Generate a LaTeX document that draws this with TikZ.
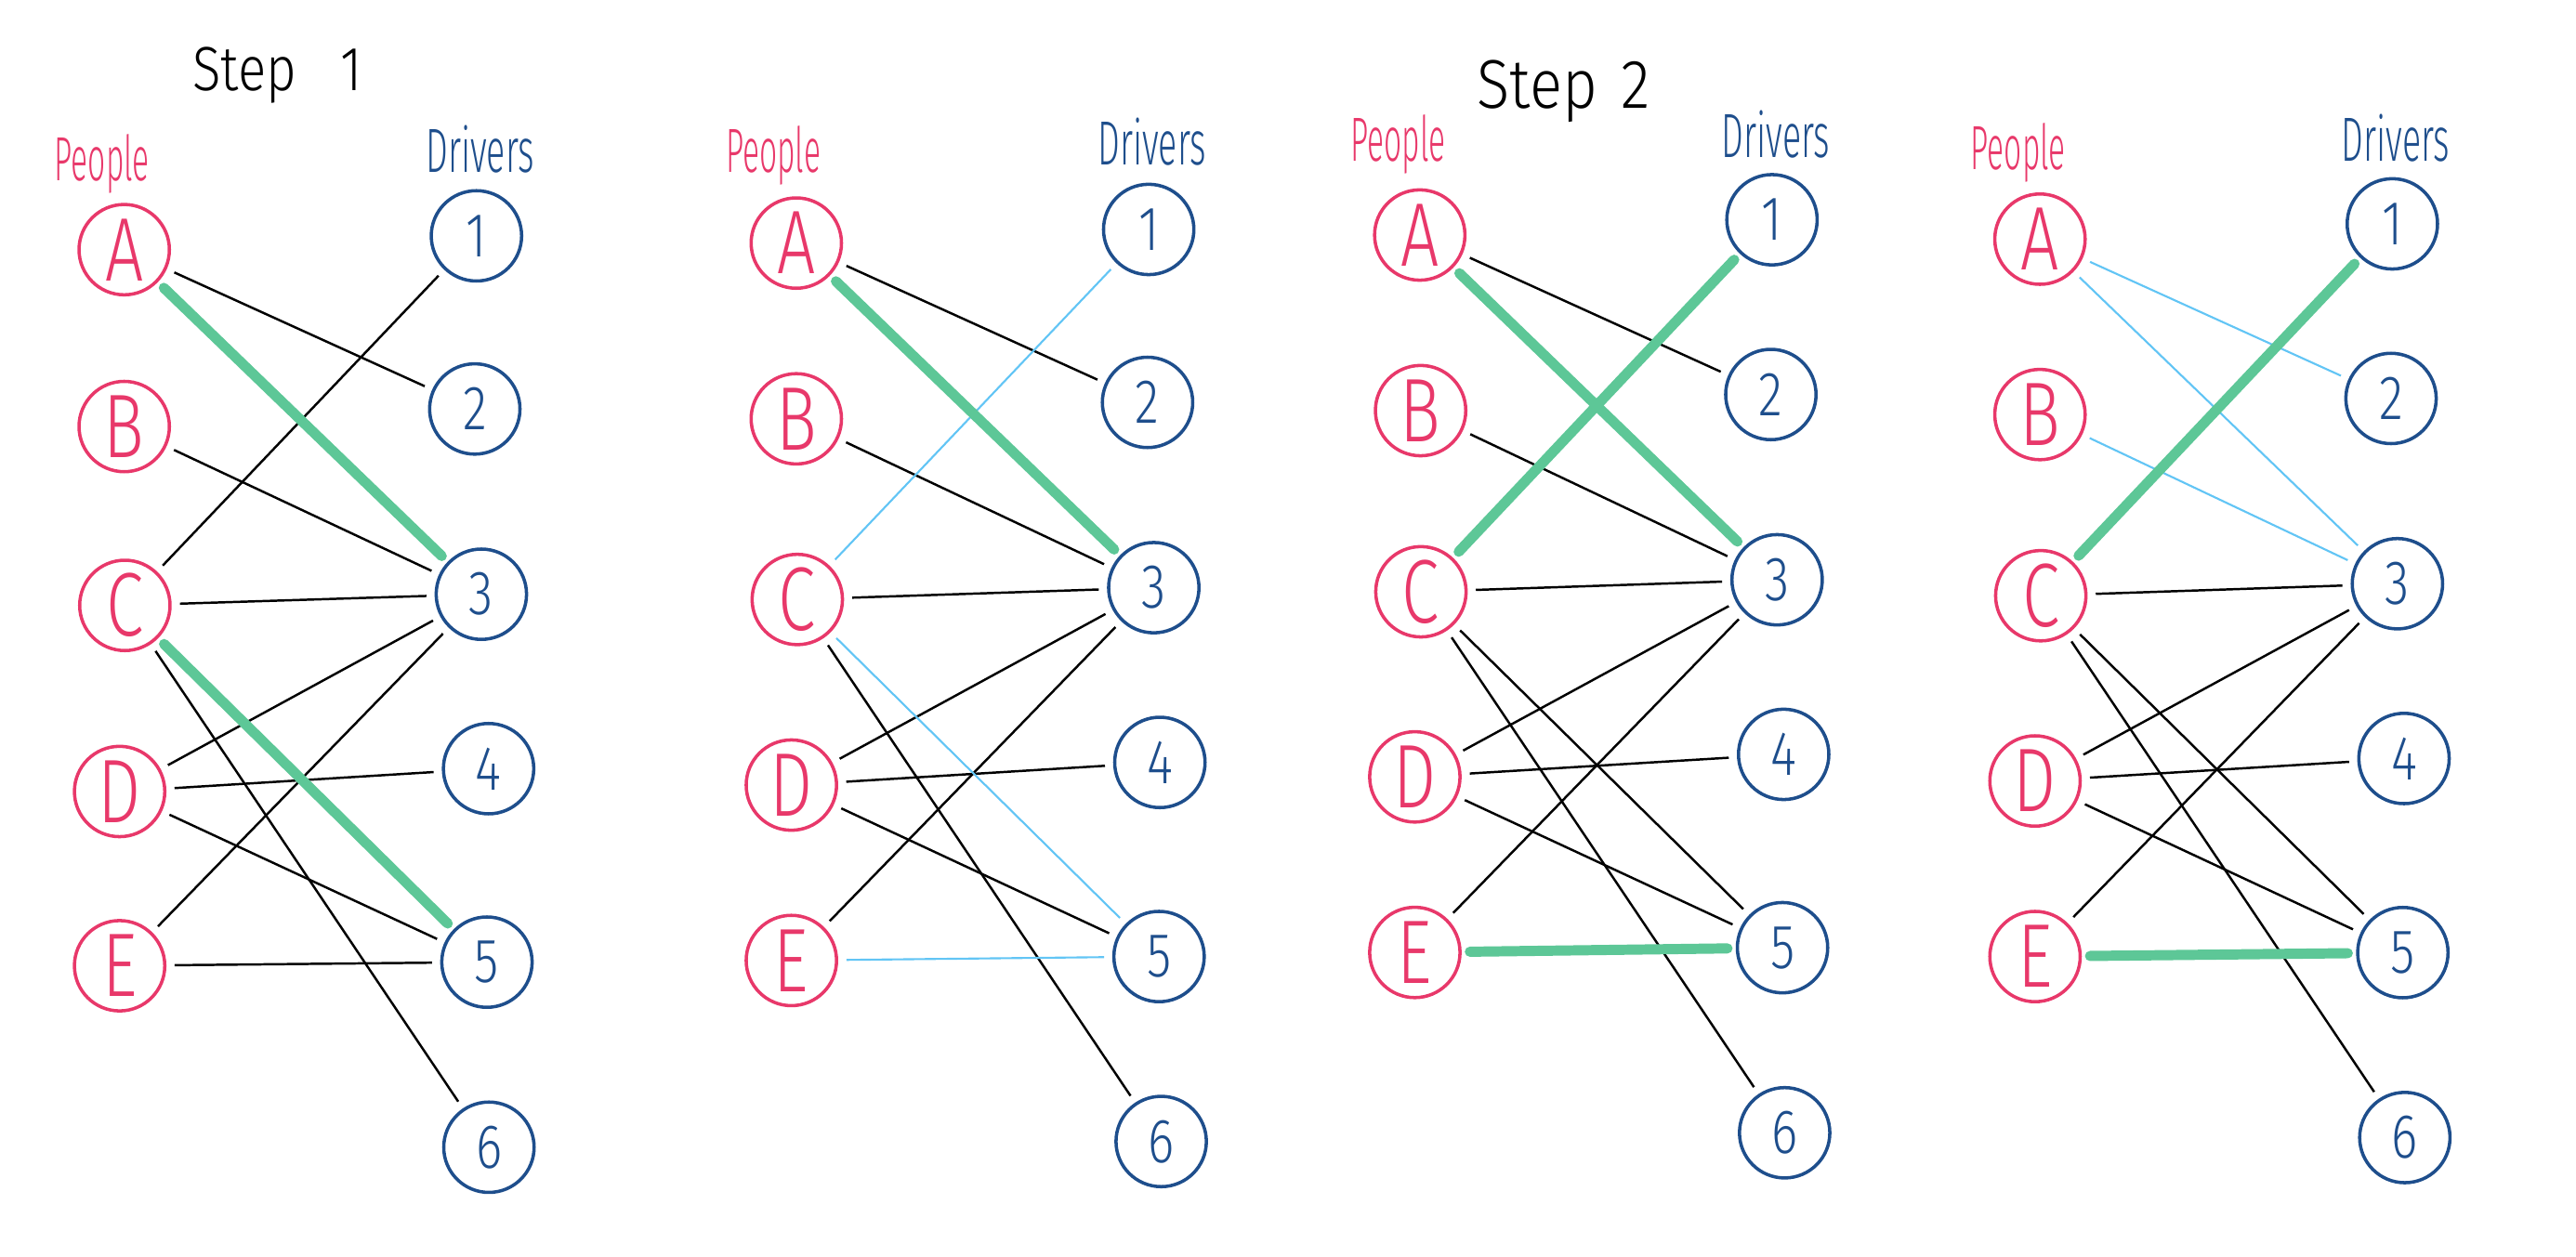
\documentclass[tikz,border=0pt]{standalone}
\usepackage{fontspec}
\usepackage{graphicx}
\newfontfamily\hand{Fira Sans Light}
\definecolor{ppink}{HTML}{E8386A}
\definecolor{nblue}{HTML}{1E4E8C}
\definecolor{mgreen}{HTML}{5DC797}
\definecolor{lblue}{HTML}{62C5F5}
\newcommand\hw[3]{{\hand\fontsize{#1}{#1}\selectfont\scalebox{#2}[1]{#3}}}
\begin{document}
\begin{tikzpicture}[x=1pt,y=-1pt,
  person/.style={circle,draw=ppink,line width=2pt,minimum size=55pt,inner sep=0pt,outer sep=6pt,text=ppink},
  driver/.style={circle,draw=nblue,line width=2pt,minimum size=55pt,inner sep=0pt,outer sep=6pt,text=nblue},
  blk/.style={line width=1.4pt,black},
  lb/.style={line width=1.2pt,lblue},
  gr/.style={line width=6.2pt,mgreen,line cap=round},
  lab/.style={inner sep=0pt,anchor=base west}]
\useasboundingbox (0,0) rectangle (1568,765);
\newcommand\pl[1]{\hw{55}{0.75}{#1}}
\newcommand\dl[1]{\hw{38}{0.8}{#1}}

% ---------- titles ----------
\node[lab] (t1) at (117,55) {\hw{38}{0.84}{Step\hspace{32pt}1}};
\node[lab] (t2) at (899,66) {\hw{42}{0.88}{Step\hspace{16pt}2}};

% ---------- panel 1 ----------
\node[lab,text=ppink] (h1p) at (33,110) {\hw{38}{0.5}{People}};
\node[lab,text=nblue] (h1d) at (259,105) {\hw{38}{0.56}{Drivers}};
\node[person] (p1A) at (75.6,152) {\pl{A}};
\node[person] (p1B) at (75.6,259.7) {\pl{B}};
\node[person] (p1C) at (76,368.6) {\pl{C}};
\node[person] (p1D) at (72.8,481.9) {\pl{D}};
\node[person] (p1E) at (72.8,588) {\pl{E}};
\node[driver] (p1n1) at (290,143.6) {\dl{1}};
\node[driver] (p1n2) at (289,249) {\dl{2}};
\node[driver] (p1n3) at (293,361.8) {\dl{3}};
\node[driver] (p1n4) at (297.4,468) {\dl{4}};
\node[driver] (p1n5) at (296.4,585.8) {\dl{5}};
\node[driver] (p1n6) at (297.6,698.5) {\dl{6}};

% ---------- panel 2 ----------
\node[lab,text=ppink] (h2p) at (441.6,105) {\hw{38}{0.5}{People}};
\node[lab,text=nblue] (h2d) at (668,100.5) {\hw{38}{0.56}{Drivers}};
\node[person] (p2A) at (484.7,148) {\pl{A}};
\node[person] (p2B) at (484.7,255) {\pl{B}};
\node[person] (p2C) at (485.3,365) {\pl{C}};
\node[person] (p2D) at (481.7,478) {\pl{D}};
\node[person] (p2E) at (481.7,584.8) {\pl{E}};
\node[driver] (p2n1) at (699.2,139.7) {\dl{1}};
\node[driver] (p2n2) at (698.5,245) {\dl{2}};
\node[driver] (p2n3) at (702.3,357.8) {\dl{3}};
\node[driver] (p2n4) at (706,464.2) {\dl{4}};
\node[driver] (p2n5) at (705.5,582.4) {\dl{5}};
\node[driver] (p2n6) at (706.8,695) {\dl{6}};

% ---------- panel 3 ----------
\node[lab,text=ppink] (h3p) at (821.8,98) {\hw{38}{0.5}{People}};
\node[lab,text=nblue] (h3d) at (1047.7,95.6) {\hw{38}{0.56}{Drivers}};
\node[person] (p3A) at (864.2,143.1) {\pl{A}};
\node[person] (p3B) at (864.7,250) {\pl{B}};
\node[person] (p3C) at (864.9,360.3) {\pl{C}};
\node[person] (p3D) at (861.2,473) {\pl{D}};
\node[person] (p3E) at (861.2,579.9) {\pl{E}};
\node[driver] (p3n1) at (1078.6,133.8) {\dl{1}};
\node[driver] (p3n2) at (1077.9,240.2) {\dl{2}};
\node[driver] (p3n3) at (1081.7,353) {\dl{3}};
\node[driver] (p3n4) at (1085.7,459.3) {\dl{4}};
\node[driver] (p3n5) at (1085,577) {\dl{5}};
\node[driver] (p3n6) at (1086.3,689.7) {\dl{6}};

% ---------- panel 4 ----------
\node[lab,text=ppink] (h4p) at (1199.4,103) {\hw{38}{0.5}{People}};
\node[lab,text=nblue] (h4d) at (1425,98) {\hw{38}{0.56}{Drivers}};
\node[person] (p4A) at (1241.7,145.6) {\pl{A}};
\node[person] (p4B) at (1241.7,252.4) {\pl{B}};
\node[person] (p4C) at (1242.2,362.7) {\pl{C}};
\node[person] (p4D) at (1238.7,475.5) {\pl{D}};
\node[person] (p4E) at (1238.7,582.4) {\pl{E}};
\node[driver] (p4n1) at (1456.2,136.3) {\dl{1}};
\node[driver] (p4n2) at (1455.4,242.6) {\dl{2}};
\node[driver] (p4n3) at (1459.3,355.4) {\dl{3}};
\node[driver] (p4n4) at (1463.3,461.8) {\dl{4}};
\node[driver] (p4n5) at (1462.6,580) {\dl{5}};
\node[driver] (p4n6) at (1463.8,692.6) {\dl{6}};

% ---------- edges ----------
\foreach \a/\b in {A/2,B/3,C/1,C/3,C/6,D/3,D/4,D/5,E/3,E/5}
  \draw[blk] (p1\a) -- (p1n\b);
\foreach \a/\b in {A/3,C/5}
  \draw[gr] (p1\a) -- (p1n\b);

\foreach \a/\b in {A/2,B/3,C/3,C/6,D/3,D/4,D/5,E/3}
  \draw[blk] (p2\a) -- (p2n\b);
\foreach \a/\b in {C/1,C/5,E/5}
  \draw[lb] (p2\a) -- (p2n\b);
\draw[gr] (p2A) -- (p2n3);

\foreach \a/\b in {A/2,B/3,C/3,C/5,C/6,D/3,D/4,D/5,E/3}
  \draw[blk] (p3\a) -- (p3n\b);
\foreach \a/\b in {A/3,C/1,E/5}
  \draw[gr] (p3\a) -- (p3n\b);

\foreach \a/\b in {C/3,C/5,C/6,D/3,D/4,D/5,E/3}
  \draw[blk] (p4\a) -- (p4n\b);
\foreach \a/\b in {A/2,A/3,B/3}
  \draw[lb] (p4\a) -- (p4n\b);
\foreach \a/\b in {C/1,E/5}
  \draw[gr] (p4\a) -- (p4n\b);
\end{tikzpicture}
\end{document}
